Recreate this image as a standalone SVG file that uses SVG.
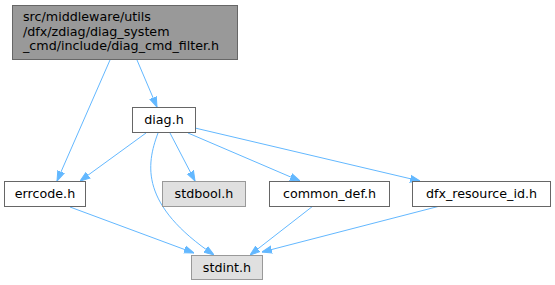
<svg xmlns="http://www.w3.org/2000/svg" width="555" height="285" viewBox="0 0 555 285">
<defs>
<marker id="ah" viewBox="0 0 10 10" refX="10" refY="5" markerWidth="10" markerHeight="10" markerUnits="userSpaceOnUse" orient="auto">
<path d="M0,1.5 L10,5 L0,8.5 z" fill="#63b8ff" stroke="#63b8ff"/>
</marker>
<style>
.e{fill:none;stroke:#63b8ff;stroke-width:1;marker-end:url(#ah)}
.n{fill:#ffffff;stroke:#666666;stroke-width:1}
.g{fill:#e0e0e0;stroke:#999999;stroke-width:1}
.m{fill:#999999;stroke:#666666;stroke-width:1}
text{font-family:"DejaVu Sans",sans-serif;font-size:12.7px;fill:#000000}
.c{text-anchor:middle}
</style>
</defs>
<rect width="555" height="285" fill="#ffffff"/>
<g id="edges">
<path class="e" d="M110,60 L57,181"/>
<path class="e" d="M137,60 L157,107"/>
<path class="e" d="M146,133 L80,181"/>
<path class="e" d="M158,133 C146,165 140,205 214,255"/>
<path class="e" d="M170,133 L195,181"/>
<path class="e" d="M188,133 L300,181"/>
<path class="e" d="M195,128 L420,181"/>
<path class="e" d="M70,207 L194,253"/>
<path class="e" d="M313,206 L250,255"/>
<path class="e" d="M440,206 L262,252"/>
</g>
<g id="node-main">
<rect class="m" x="12.5" y="5.5" width="225" height="54"/>
<text x="23" y="21">src/middleware/utils</text>
<text x="23" y="35.5">/dfx/zdiag/diag_system</text>
<text x="23" y="50">_cmd/include/diag_cmd_filter.h</text>
</g>
<g id="node-diag">
<rect class="n" x="132.5" y="107.5" width="63" height="25"/>
<text class="c" x="164" y="124">diag.h</text>
</g>
<g id="node-errcode">
<rect class="n" x="4.5" y="181.5" width="81" height="25"/>
<text class="c" x="45" y="198">errcode.h</text>
</g>
<g id="node-stdbool">
<rect class="g" x="162.5" y="181.5" width="83" height="25"/>
<text class="c" x="204" y="198">stdbool.h</text>
</g>
<g id="node-common_def">
<rect class="n" x="269.5" y="181.5" width="120" height="25"/>
<text class="c" x="329.5" y="198">common_def.h</text>
</g>
<g id="node-dfx_resource_id">
<rect class="n" x="412.5" y="181.5" width="138" height="25"/>
<text class="c" x="481.5" y="198">dfx_resource_id.h</text>
</g>
<g id="node-stdint">
<rect class="g" x="191.5" y="255.5" width="71" height="24"/>
<text class="c" x="227" y="272">stdint.h</text>
</g>
</svg>
